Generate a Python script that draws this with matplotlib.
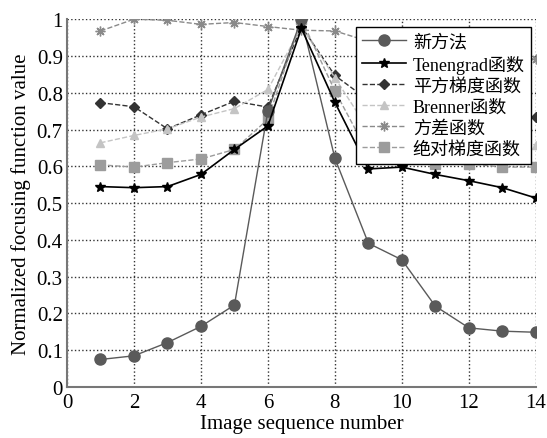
import matplotlib
matplotlib.use("Agg")
import matplotlib.pyplot as plt

plt.rcParams["font.family"] = ["Liberation Serif", "Noto Sans CJK SC"]

frames = list(range(1, 15))
new_method = [0.075, 0.085, 0.121, 0.165, 0.223, 0.751, 1.0,
              0.622, 0.391, 0.346, 0.220, 0.161, 0.152, 0.149]
tenengrad = [0.545, 0.542, 0.545, 0.578, 0.646, 0.710, 0.975,
             0.774, 0.593, 0.598, 0.578, 0.561, 0.542, 0.514]
sq_gradient = [0.773, 0.762, 0.702, 0.740, 0.777, 0.761, 0.980,
               0.847, 0.780, 0.760, 0.745, 0.740, 0.736, 0.734]
brenner = [0.664, 0.684, 0.702, 0.734, 0.757, 0.809, 0.980,
           0.841, 0.700, 0.675, 0.665, 0.662, 0.660, 0.659]
variance = [0.968, 1.0, 0.997, 0.986, 0.991, 0.980, 0.970,
            0.968, 0.940, 0.930, 0.920, 0.910, 0.900, 0.891]
abs_gradient = [0.604, 0.598, 0.610, 0.620, 0.646, 0.728, 1.0,
                0.805, 0.635, 0.616, 0.607, 0.607, 0.598, 0.598]

labels = ["新方法", "Tenengrad函数", "平方梯度函数", "Brenner函数", "方差函数", "绝对梯度函数"]

fig = plt.figure(figsize=(5.47, 4.39), dpi=100)
ax = fig.add_axes([0.1225, 0.116, 0.857, 0.838])

ax.plot(frames, new_method, "-o", color="#5a5a5a", lw=1.0, ms=8, label=labels[0], zorder=3)
ax.plot(frames, tenengrad, "-*", color="black", lw=1.2, ms=7, label=labels[1], zorder=4)
ax.plot(frames, sq_gradient, "--D", color="#333333", lw=1.0, ms=5, label=labels[2])
ax.plot(frames, brenner, "--^", color="#c4c4c4", lw=1.0, ms=6, label=labels[3])
ax.plot(frames, variance, "--", marker=(8, 2, 0), color="#8a8a8a", lw=1.0, ms=7, label=labels[4])
ax.plot(frames, abs_gradient, "--s", color="#9c9c9c", lw=1.0, ms=7, label=labels[5], zorder=2)

ax.set_xlim(0, 14)
ax.set_ylim(0, 1)
ax.set_xticks(range(0, 15, 2))
ax.set_yticks([i / 10 for i in range(11)])
ax.set_yticklabels(["0", "0.1", "0.2", "0.3", "0.4", "0.5", "0.6", "0.7", "0.8", "0.9", "1"])
ax.tick_params(length=0, labelsize=15)
ax.tick_params(axis="x", pad=4)
ax.tick_params(axis="y", pad=3)
ax.grid(True, color="#333333", ls=":", lw=1.0)
for s in ("top", "right"):
    ax.spines[s].set_visible(False)
for s in ("left", "bottom"):
    ax.spines[s].set_color("#777777")
    ax.spines[s].set_linewidth(1.5)

ax.set_xlabel("Image sequence number", fontsize=15, labelpad=2)
ax.set_ylabel("Normalized focusing function value", fontsize=15, labelpad=4)

leg = ax.legend(loc="upper right", bbox_to_anchor=(0.99, 0.978), fontsize=13,
                fancybox=False, framealpha=1, edgecolor="black",
                borderaxespad=0, handlelength=2.4, labelspacing=0.22,
                borderpad=0.35, handletextpad=0.4)
leg.get_frame().set_linewidth(1.0)

fig.savefig("out.png", dpi=100)
